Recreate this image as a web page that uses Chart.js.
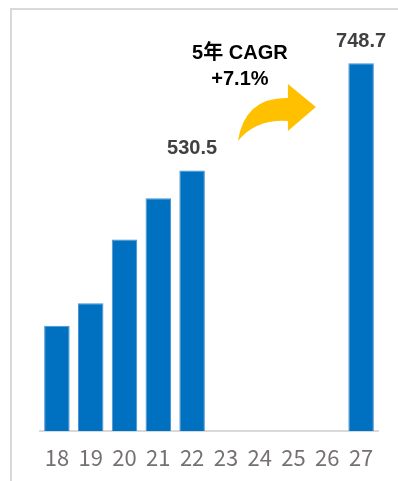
<!DOCTYPE html>
<html>
<head>
<meta charset="utf-8">
<script src="https://cdn.jsdelivr.net/npm/chart.js@4"></script>
<style>
  html, body { margin: 0; padding: 0; background: #fff; }
  body { width: 398px; height: 481px; overflow: hidden; position: relative; }
  #frame { position: absolute; left: 10px; top: 8px; width: 420px; height: 500px;
           border-left: 2px solid #d9d9d9; border-top: 2px solid #d9d9d9; }
  #wrap { position: absolute; left: 0; top: 0; width: 398px; height: 481px; }
</style>
</head>
<body>
<div id="frame"></div>
<div id="wrap"><canvas id="c"></canvas></div>
<script>
// 年度（下2桁）と売上
const YEARS = ['18', '19', '20', '21', '22', '23', '24', '25', '26', '27'];
const VALUES = [214, 260, 390, 474, 530.5, null, null, null, null, 748.7];
const LABEL_TEXT = { 4: '530.5', 9: '748.7' };
const CAGR_LINES = ['5年 CAGR', '+7.1%'];

const annot = {
  id: 'annot',
  afterDatasetsDraw(chart) {
    const ctx = chart.ctx;
    const meta = chart.getDatasetMeta(0);
    ctx.save();
    // 値ラベル
    ctx.font = 'bold 20px "Liberation Sans", Arial, sans-serif';
    ctx.fillStyle = '#404040';
    ctx.textAlign = 'center';
    ctx.textBaseline = 'middle';
    Object.keys(LABEL_TEXT).forEach(i => {
      const b = meta.data[i];
      ctx.fillText(LABEL_TEXT[i], b.x, b.y - 22);
    });

    // CAGR 矢印（23の位置を基準）
    const ax = chart.scales.x.getPixelForValue(5);
    const x0 = ax + 12, y0 = 141;
    ctx.fillStyle = '#FFC000';
    ctx.beginPath();
    ctx.moveTo(x0, y0);
    ctx.quadraticCurveTo(x0 + 7, y0 - 44, x0 + 50, y0 - 43);
    ctx.lineTo(x0 + 50, y0 - 57);
    ctx.lineTo(x0 + 78, y0 - 34);
    ctx.lineTo(x0 + 50, y0 - 10);
    ctx.lineTo(x0 + 50, y0 - 20);
    ctx.quadraticCurveTo(x0 + 18, y0 - 22, x0, y0);
    ctx.closePath();
    ctx.fill();

    ctx.fillStyle = '#000';
    ctx.font = 'bold 20px "Liberation Sans", "Noto Sans CJK JP", Arial, sans-serif';
    ctx.fillText(CAGR_LINES[0], ax + 14, 53);
    ctx.fillText(CAGR_LINES[1], ax + 14, 79);
    ctx.restore();
  }
};

new Chart(document.getElementById('c'), {
  type: 'bar',
  data: {
    labels: YEARS,
    datasets: [{
      data: VALUES,
      backgroundColor: '#0070C0',
      borderColor: '#4a90d0',
      borderWidth: { top: 1, left: 1, right: 1, bottom: 0 },
      barPercentage: 0.755,
      categoryPercentage: 1
    }]
  },
  options: {
    responsive: true,
    maintainAspectRatio: false,
    animation: false,
    layout: { padding: { left: 40, right: 20, top: 38, bottom: 0 } },
    plugins: { legend: { display: false }, tooltip: { enabled: false } },
    scales: {
      x: {
        grid: { display: false, drawTicks: false },
        border: { display: true, color: '#d9d9d9', width: 2 },
        ticks: {
          color: '#767171',
          padding: 13,
          font: { family: '"Noto Sans CJK JP", sans-serif', size: 22 }
        },
        afterFit(s) { s.height = 50; }
      },
      y: { display: false, min: 0, max: 800 }
    }
  },
  plugins: [annot]
});
</script>
</body>
</html>
